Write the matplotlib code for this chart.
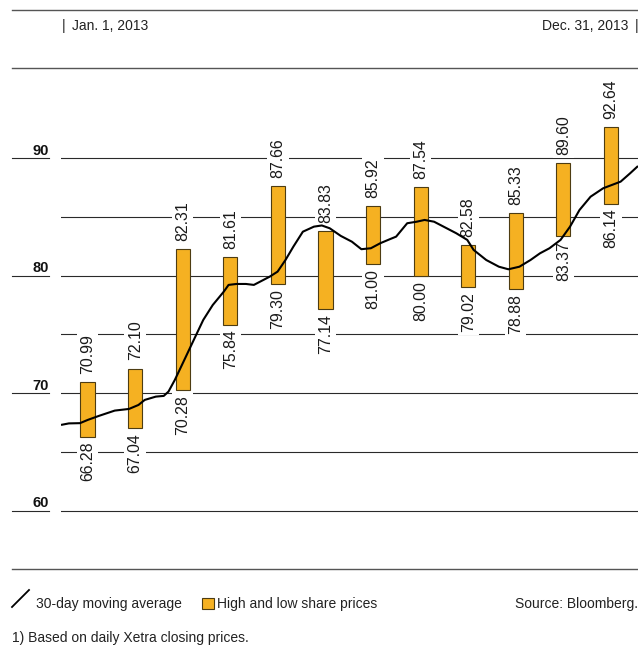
import numpy as np
import matplotlib
matplotlib.use('Agg')
from matplotlib import pyplot as plt
from matplotlib import font_manager
from matplotlib.lines import Line2D

# monthly high / low share prices (EUR)
months = np.arange(12)
highs = [70.99, 72.10, 82.31, 81.61, 87.66, 83.83, 85.92, 87.54, 82.58, 85.33, 89.60, 92.64]
lows = [66.28, 67.04, 70.28, 75.84, 79.30, 77.14, 81.00, 80.00, 79.02, 78.88, 83.37, 86.14]

# 30-day moving average (day of year, value)
ma_day = [0, 5, 12, 17, 24, 34, 43, 49, 53, 60, 65, 68, 72, 78, 84, 90, 96, 103, 106, 111,
          117, 122, 126, 132, 137, 142, 147, 153, 160, 165, 170, 177, 184, 190, 196, 202, 208,
          212, 219, 225, 230, 236, 244, 250, 257, 261, 269, 277, 283, 290, 297, 303, 309, 316,
          322, 328, 335, 343, 354, 360, 365]
ma_val = [67.30, 67.43, 67.45, 67.73, 68.07, 68.52, 68.66, 69.00, 69.43, 69.71, 69.77, 70.14,
          71.13, 72.83, 74.54, 76.24, 77.51, 78.65, 79.22, 79.30, 79.30, 79.22, 79.50, 79.92,
          80.35, 81.34, 82.48, 83.75, 84.18, 84.28, 84.04, 83.39, 82.90, 82.26, 82.34, 82.77,
          83.11, 83.33, 84.47, 84.60, 84.75, 84.60, 84.04, 83.62, 83.05, 82.20, 81.34, 80.77,
          80.55, 80.77, 81.34, 81.91, 82.34, 83.05, 84.18, 85.60, 86.73, 87.45, 88.01, 88.72,
          89.34]

major = [60, 70, 80, 90]
minor = [65, 75, 85]

names = {f.name for f in font_manager.fontManager.ttflist}
base = 'Liberation Sans' if 'Liberation Sans' in names else 'DejaVu Sans'
if 'Liberation Sans Narrow' in names:
    narrow, nsize = 'Liberation Sans Narrow', 12.5
else:
    narrow, nsize = base, 11.4
plt.rcParams['font.family'] = [base, 'DejaVu Sans']

W, H = 638, 645
fig = plt.figure(figsize=(W/100, H/100), dpi=100)

def fx(x):
    return x/W

def fy(y):
    return 1 - y/H

ax = fig.add_axes((fx(61), fy(569.4), fx(577), (569.4-68.3)/H))
ax.set_xlim(0, 365)
ax.set_ylim(55, 97.66)
ax.axis('off')

grid_col = '#2a2a2a'
for v in major + minor:
    ax.axhline(v, color=grid_col, lw=0.8, zorder=1)
for v in major:
    ax.plot([-0.085, -0.021], [v, v], color=grid_col, lw=0.8,
            transform=ax.get_yaxis_transform(), clip_on=False)
    ax.text(-0.021, v + 0.3, str(v), transform=ax.get_yaxis_transform(),
            ha='right', va='baseline', fontsize=10.5, fontweight='bold', color='#111111')

# high/low bars
centers = 16.8 + 30.1*months
ax.bar(centers, np.array(highs) - np.array(lows), bottom=lows, width=9,
       color='#F5B122', edgecolor='#4d3c12', lw=0.8, zorder=3)

box = dict(boxstyle='square,pad=0.2', fc='white', ec='none')
for c, h, l in zip(centers, highs, lows):
    ax.annotate(f'{h:.2f}', (c, h), xytext=(0, 5.8), textcoords='offset points',
                rotation=90, ha='center', va='bottom', fontsize=nsize, family=narrow,
                color='#1a1a1a', bbox=box, zorder=2)
    ax.annotate(f'{l:.2f}', (c, l), xytext=(0, -3.6), textcoords='offset points',
                rotation=90, ha='center', va='top', fontsize=nsize, family=narrow,
                color='#1a1a1a', bbox=box, zorder=2)

# moving average
ax.plot(ma_day, ma_val, color='black', lw=1.5, zorder=4, solid_capstyle='butt')

# frame lines
for y in (10, 68.3, 569.4):
    fig.add_artist(Line2D([fx(12), fx(638)], [fy(y), fy(y)], color='#555555', lw=1.0))

tc = '#222222'
fig.text(fx(62), fy(30), '|', ha='left', va='baseline', fontsize=10, color=tc)
fig.text(fx(72), fy(30), 'Jan. 1, 2013', ha='left', va='baseline', fontsize=10, color=tc)
fig.text(fx(628), fy(30), 'Dec. 31, 2013', ha='right', va='baseline', fontsize=10, color=tc)
fig.text(fx(635), fy(30), '|', ha='left', va='baseline', fontsize=10, color=tc)

# legend
fig.add_artist(Line2D([fx(12), fx(29)], [fy(607), fy(590)], color='black', lw=1.3))
fig.text(fx(36), fy(608), '30-day moving average', ha='left', va='baseline', fontsize=10, color=tc)
fig.add_artist(plt.Rectangle((fx(201.5), fy(609)), fx(12.5), 11/H, fc='#F5B122',
                             ec='#4d3c12', lw=0.8))
fig.text(fx(217), fy(608), 'High and low share prices', ha='left', va='baseline',
         fontsize=10, color=tc)
fig.text(fx(638), fy(608), 'Source: Bloomberg.', ha='right', va='baseline', fontsize=10, color=tc)
fig.text(fx(12), fy(642), '1) Based on daily Xetra closing prices.', ha='left', va='baseline',
         fontsize=10, color=tc)

fig.savefig('out.png', dpi=100)
